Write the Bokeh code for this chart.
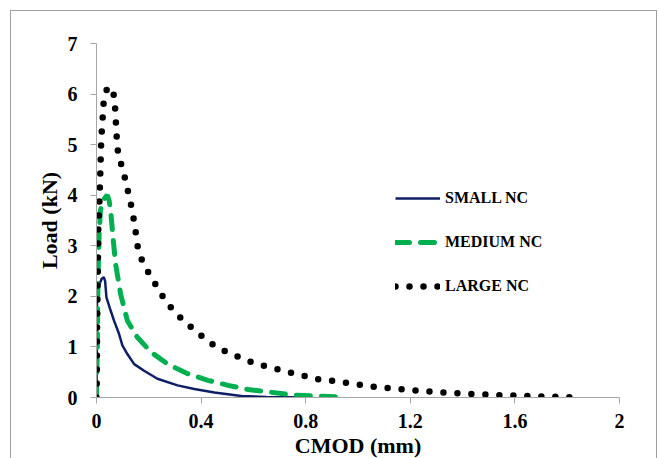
from bokeh.plotting import figure
from bokeh.models import Range1d, FixedTicker, Legend, LegendItem
from bokeh.embed import file_html
from bokeh.resources import INLINE

# ---- data ----
small_x = [0, 0.001, 0.002, 0.008, 0.02, 0.028, 0.033, 0.038, 0.054, 0.067, 0.086, 0.099,
           0.118, 0.144, 0.182, 0.233, 0.31, 0.374, 0.451, 0.554, 0.65, 0.8]
small_y = [0, 1.0, 2.0, 2.2, 2.35, 2.38, 2.3, 1.98, 1.72, 1.52, 1.26, 1.03,
           0.86, 0.66, 0.53, 0.37, 0.24, 0.17, 0.10, 0.03, 0.01, 0.0]

medium_x = [0, 0.003, 0.005, 0.007, 0.010, 0.015, 0.025, 0.041, 0.048, 0.054, 0.063, 0.073,
            0.092, 0.118, 0.156, 0.208, 0.272, 0.349, 0.426, 0.503, 0.579, 0.64, 0.75, 0.83, 0.95]
medium_y = [0, 1.0, 2.0, 2.6, 3.2, 3.7, 3.9, 4.0, 3.9, 3.70, 3.17, 2.64,
            2.05, 1.52, 1.19, 0.90, 0.66, 0.47, 0.34, 0.24, 0.16, 0.12, 0.05, 0.03, 0.01]

large_x = [0, 0.001, 0.002, 0.005, 0.007, 0.010, 0.015, 0.018, 0.022, 0.028, 0.04, 0.051,
           0.062, 0.069, 0.072, 0.075, 0.078, 0.083, 0.099, 0.112, 0.124, 0.136, 0.145, 0.153,
           0.160, 0.180, 0.208, 0.236, 0.265, 0.300, 0.338, 0.381, 0.422, 0.467, 0.517, 0.567,
           0.619, 0.672, 0.724, 0.78, 0.832, 0.886, 0.94, 0.995, 1.049, 1.104, 1.158, 1.213,
           1.268, 1.322, 1.377, 1.432, 1.487, 1.541, 1.596, 1.651, 1.705, 1.76, 1.817]
large_y = [0, 0.3, 1.3, 2.5, 3.4, 3.7, 4.5, 5.1, 5.4, 5.9, 6.1, 6.15,
           6.05, 5.93, 5.64, 5.36, 5.09, 4.80, 4.54, 4.27, 3.99, 3.72, 3.44, 3.16,
           2.89, 2.64, 2.39, 2.15, 1.90, 1.69, 1.49, 1.31, 1.13, 0.97, 0.86, 0.75,
           0.65, 0.59, 0.51, 0.45, 0.37, 0.34, 0.30, 0.26, 0.22, 0.19, 0.17, 0.14,
           0.12, 0.10, 0.085, 0.07, 0.06, 0.045, 0.04, 0.03, 0.02, 0.013, 0.006]

series_names = ["SMALL NC", "MEDIUM NC", "LARGE NC"]
x_ticks = [0, 0.4, 0.8, 1.2, 1.6, 2]
x_tick_labels = ["0", "0.4", "0.8", "1.2", "1.6", "2"]
y_ticks = [0, 1, 2, 3, 4, 5, 6, 7]

FONT = "Liberation Serif"
AXIS_COL = "#A6A6A6"

p = figure(width=646, height=446, output_backend="svg", toolbar_location=None,
           x_range=Range1d(0, 2), y_range=Range1d(0, 7),
           min_border_left=85, min_border_right=37, min_border_top=32, min_border_bottom=40)
p.frame_width = 523
p.frame_height = 354
p.outline_line_color = None
p.xgrid.visible = False
p.ygrid.visible = False
p.background_fill_color = "white"
p.border_fill_color = "white"
p.styles = {"border-top": "1px solid #A0A0A0", "border-left": "1px solid #A0A0A0",
            "border-right": "1px solid #A0A0A0", "box-sizing": "border-box",
            "margin-left": "10px", "margin-top": "10px"}

for ax in (p.xaxis[0], p.yaxis[0]):
    ax.axis_line_color = AXIS_COL
    ax.major_tick_line_color = AXIS_COL
    ax.minor_tick_line_color = None
    ax.major_tick_in = 0
    ax.major_tick_out = 6
    ax.major_label_text_font = FONT
    ax.major_label_text_font_style = "bold"
    ax.major_label_text_font_size = "20px"
    ax.major_label_text_color = "black"
    ax.axis_label_text_font = FONT
    ax.axis_label_text_font_style = "bold"
    ax.axis_label_text_font_size = "22px"
    ax.axis_label_text_color = "black"

p.xaxis.ticker = FixedTicker(ticks=x_ticks)
p.xaxis.major_label_overrides = {t: l for t, l in zip(x_ticks, x_tick_labels)}
p.yaxis.ticker = FixedTicker(ticks=y_ticks)
p.xaxis.axis_label = "CMOD (mm)"
p.yaxis.axis_label = "Load (kN)"
p.xaxis.major_label_standoff = 10
p.xaxis.axis_label_standoff = 2
p.yaxis.major_label_standoff = 13
p.yaxis.axis_label_standoff = 3

r_small = p.line(small_x, small_y, line_color="#0E1F66", line_width=2.5)
r_med = p.line(medium_x, medium_y, line_color="#00B050", line_width=5,
               line_dash="14 11", line_cap="round")
r_large = p.line(large_x, large_y, line_color="black", line_width=6.5,
                 line_dash="0 14", line_cap="round")

legend = Legend(items=[LegendItem(label=series_names[0], renderers=[r_small]),
                       LegendItem(label=series_names[1], renderers=[r_med]),
                       LegendItem(label=series_names[2], renderers=[r_large])],
                location=(299, 101))
legend.border_line_color = None
legend.background_fill_alpha = 0
legend.padding = 0
legend.margin = 0
legend.spacing = 24
legend.glyph_width = 45
legend.glyph_height = 20
legend.label_height = 20
legend.label_standoff = 5
legend.label_text_font = FONT
legend.label_text_font_style = "bold"
legend.label_text_font_size = "16px"
legend.label_text_color = "black"
p.add_layout(legend, "center")

open("out.html", "w").write(file_html(p, INLINE))
